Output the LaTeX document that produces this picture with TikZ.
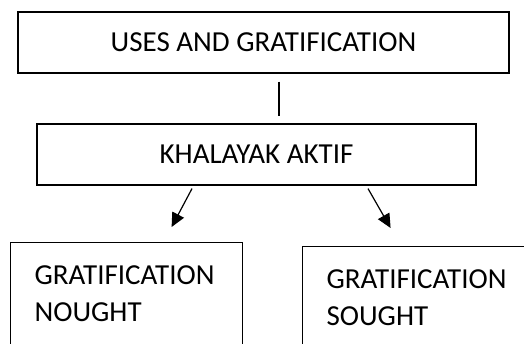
\documentclass[tikz,border=0pt]{standalone}
\usepackage{fontspec}
\setmainfont{Carlito}
\usepackage{tikz}
\usetikzlibrary{positioning}
\usetikzlibrary{arrows.meta}

\begin{document}
\begin{tikzpicture}[x=1pt, y=-1pt,
    box/.style={rectangle, draw=black, line width=1.2pt, inner sep=0pt, font=\fontsize{29}{36.6}\selectfont},
    leaf/.style={box, anchor=north west, align=left, inner xsep=24pt, inner ysep=23pt, text depth=120pt},
    link/.style={line width=1.2pt, black},
    arrow/.style={link, -{Triangle[length=14pt, width=13pt]}},
]

    \useasboundingbox (0,0) rectangle (524,343);
    \clip (0,0) rectangle (524,343);

    % --- Top: theory ---
    \node[box, minimum width=491pt, minimum height=61pt] (uses) at (263.5,42.5) {USES AND GRATIFICATION};

    % --- Middle: audience ---
    \node[box, minimum width=439pt, minimum height=61pt] (khalayak) at (256.5,154.5) {KHALAYAK AKTIF};

    % --- Bottom: two gratifications ---
    \node[leaf, text width=184pt] (nought) at (10,242) {GRATIFICATION\\NOUGHT};
    \node[leaf, text width=190pt] (sought) at (302,246) {GRATIFICATION\\SOUGHT};

    % --- Links ---
    \draw[link] ([xshift=15.5pt, yshift=-8pt]uses.south) -- ([xshift=22.5pt, yshift=7pt]khalayak.north);
    \draw[arrow] ([xshift=-64.5pt, yshift=-3pt]khalayak.south) -- ([xshift=45pt, yshift=15pt]nought.north);
    \draw[arrow] ([xshift=111.5pt, yshift=-3pt]khalayak.south) -- ([xshift=-31pt, yshift=18pt]sought.north);

\end{tikzpicture}
\end{document}
